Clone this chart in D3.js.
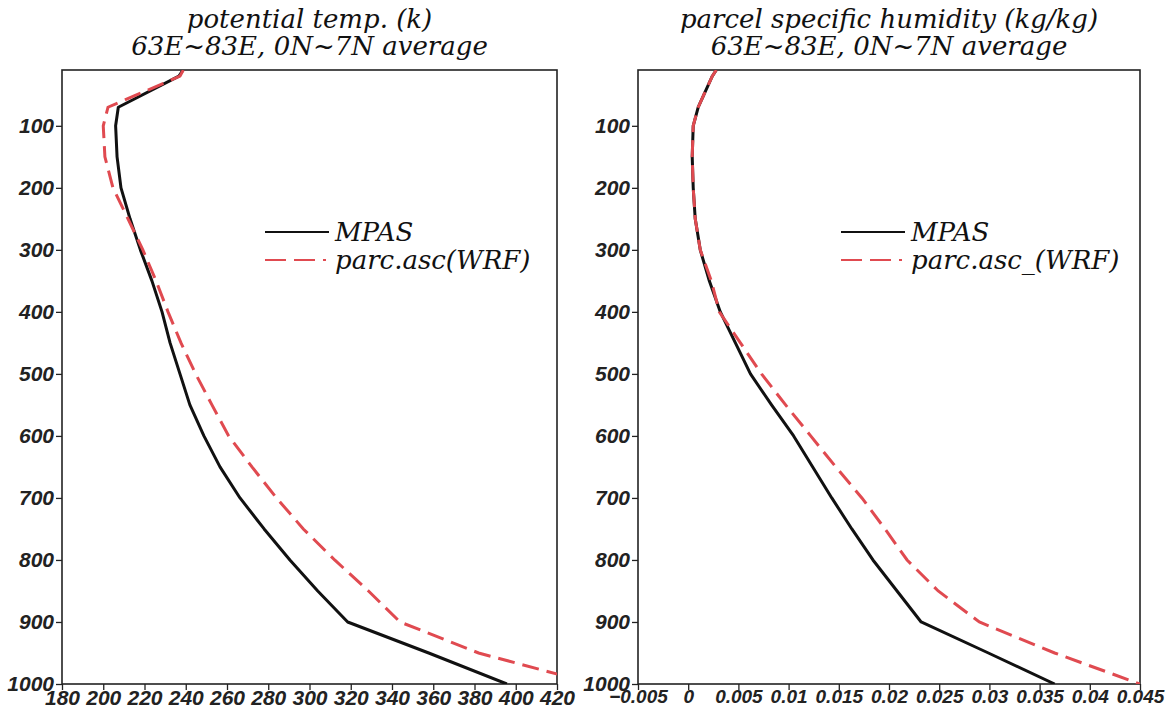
<!DOCTYPE html>
<html>
<head>
<meta charset="utf-8">
<script src="https://cdn.jsdelivr.net/npm/d3@7"></script>
<style>
  body { margin: 0; background: #fff; }
  .title { font-family: "DejaVu Serif", serif; font-style: italic; font-size: 26px; fill: #111; }
  .tick text { font-family: "Liberation Sans", Arial, sans-serif; font-weight: bold; font-style: italic; font-size: 21px; fill: #222; }
  .xq .tick text { font-size: 19px; }
  .legend text { font-family: "DejaVu Serif", serif; font-style: italic; font-size: 26px; fill: #111; }
</style>
</head>
<body>
<svg id="chart" width="1172" height="713"></svg>
<script>
// pressure levels (hPa), top of the atmosphere first
var levels = [10, 20, 70, 100, 150, 200, 250, 300, 350, 400, 450, 500, 550, 600, 650, 700, 750, 800, 850, 900, 950, 1000];

// potential temperature (K)
var thetaMpas = [238.7, 236.7, 207.3, 206, 206.7, 208.6, 213, 218, 223.6, 228.5, 232.4, 237.2, 242, 248.8, 256.6, 266.3, 278, 290.5, 304, 318.5, 357.8, 395.7];
var thetaWrf  = [238.8, 237.2, 202.3, 200, 200.8, 204.7, 212, 219.2, 225.6, 231.4, 237.7, 244.8, 252.7, 260.8, 272.1, 284, 297, 312.2, 328.6, 343.9, 382, 438];

// parcel specific humidity (kg/kg)
var qMpas = [0.0028, 0.0024, 0.001, 0.0005, 0.0004, 0.0005, 0.0007, 0.0012, 0.0021, 0.0032, 0.0047, 0.0062, 0.0083, 0.0105, 0.0124, 0.0143, 0.0163, 0.0184, 0.0208, 0.0232, 0.0299, 0.0365];
var qWrf  = [0.0028, 0.0024, 0.001, 0.0005, 0.0004, 0.0005, 0.0007, 0.0012, 0.0023, 0.0031, 0.0052, 0.0073, 0.0097, 0.0122, 0.0147, 0.0173, 0.0196, 0.0218, 0.0249, 0.029, 0.0365, 0.045];

var pTicks = [100, 200, 300, 400, 500, 600, 700, 800, 900, 1000];
var thetaTicks = [180, 200, 220, 240, 260, 280, 300, 320, 340, 360, 380, 400, 420];
var qTicks = [-0.005, 0, 0.005, 0.01, 0.015, 0.02, 0.025, 0.03, 0.035, 0.04, 0.045];

var svg = d3.select("#chart");
var plotTop = 70, plotBottom = 684;
var red = "#e04a50";

var y = d3.scaleLinear().domain([10, 1000]).range([plotTop, plotBottom]);

var panels = [
  { id: "theta", left: 62, right: 557, domain: [180, 420], ticks: thetaTicks,
    fmt: function(d) { return d; },
    title: ["potential temp. (k)", "63E~83E, 0N~7N average"],
    mpas: thetaMpas, wrf: thetaWrf, wrfLabel: "parc.asc(WRF)" },
  { id: "q", left: 638, right: 1140, domain: [-0.005, 0.045], ticks: qTicks,
    fmt: function(d) { return d < 0 ? "\u2212" + (-d) : d; },
    title: ["parcel specific humidity (kg/kg)", "63E~83E, 0N~7N average"],
    mpas: qMpas, wrf: qWrf, wrfLabel: "parc.asc_(WRF)" }
];

panels.forEach(function(p) {
  var x = d3.scaleLinear().domain(p.domain).range([p.left, p.right]);
  var g = svg.append("g");

  g.append("clipPath").attr("id", "clip-" + p.id)
    .append("rect")
      .attr("x", p.left).attr("y", plotTop)
      .attr("width", p.right - p.left).attr("height", plotBottom - plotTop);

  // titles
  g.selectAll(".title")
      .data(p.title)
    .enter().append("text")
      .attr("class", "title")
      .attr("x", (p.left + p.right) / 2)
      .attr("y", function(d, i) { return 28 + i * 27; })
      .attr("text-anchor", "middle")
      .text(function(d) { return d; });

  // axes
  var yAxis = g.append("g")
      .attr("transform", "translate(" + p.left + ",0)")
      .call(d3.axisLeft(y).tickValues(pTicks).tickFormat(function(d) { return d; }).tickSize(6).tickPadding(2));
  var xAxis = g.append("g")
      .attr("class", "x" + p.id)
      .attr("transform", "translate(0," + plotBottom + ")")
      .call(d3.axisBottom(x).tickValues(p.ticks).tickFormat(p.fmt).tickSize(6).tickPadding(0));
  [yAxis, xAxis].forEach(function(a) {
    a.select(".domain").remove();
    a.selectAll(".tick line").attr("stroke", "#222").attr("stroke-width", 1.3);
  });

  // frame
  g.append("rect")
      .attr("x", p.left).attr("y", plotTop)
      .attr("width", p.right - p.left).attr("height", plotBottom - plotTop)
      .attr("fill", "none")
      .attr("stroke", "#222")
      .attr("stroke-width", 1.6);

  var line = d3.line()
      .x(function(d) { return x(d[0]); })
      .y(function(d) { return y(d[1]); });

  var curves = g.append("g").attr("clip-path", "url(#clip-" + p.id + ")");

  curves.append("path")
      .attr("d", line(d3.zip(p.mpas, levels)))
      .attr("fill", "none")
      .attr("stroke", "#111")
      .attr("stroke-width", 3)
      .attr("stroke-linejoin", "round");

  curves.append("path")
      .attr("d", line(d3.zip(p.wrf, levels)))
      .attr("fill", "none")
      .attr("stroke", red)
      .attr("stroke-width", 3)
      .attr("stroke-dasharray", "17,8");

  // legend
  var lx = p.left + 203;
  var legend = g.append("g").attr("class", "legend");
  var items = [
    { label: "MPAS", color: "#111", dash: null, y: 232 },
    { label: p.wrfLabel, color: red, dash: "21,8,21,8,3", y: 260 }
  ];
  items.forEach(function(it) {
    legend.append("line")
        .attr("x1", lx).attr("x2", lx + 64)
        .attr("y1", it.y).attr("y2", it.y)
        .attr("stroke", it.color)
        .attr("stroke-width", 2)
        .attr("stroke-dasharray", it.dash);
    legend.append("text")
        .attr("x", lx + 70)
        .attr("y", it.y + 9)
        .text(it.label);
  });
});
</script>
</body>
</html>
